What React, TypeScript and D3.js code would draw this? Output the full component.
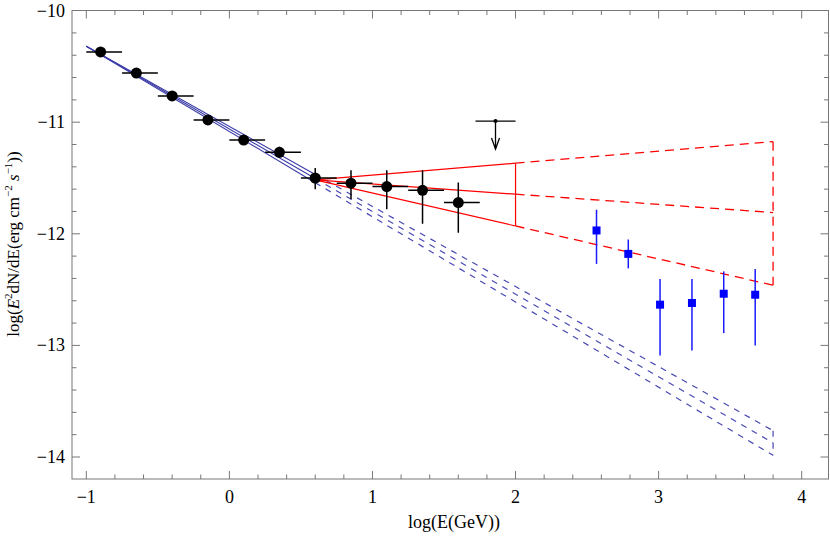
import React from "react";
import * as d3 from "d3";

// Fermi-like points (black circles)
const fermiX = [-0.9, -0.65, -0.4, -0.15, 0.1, 0.35, 0.6, 0.85, 1.1, 1.35, 1.6];
const fermiLo = [-1.0, -0.75, -0.5, -0.25, 0.0, 0.25, 0.5, 0.75, 1.0, 1.25, 1.5];
const fermiHi = [-0.75, -0.5, -0.25, 0.0, 0.25, 0.5, 0.75, 1.0, 1.25, 1.5, 1.75];
const fermiY = [-10.37, -10.56, -10.765, -10.98, -11.16, -11.27, -11.5, -11.546, -11.577, -11.61, -11.72];
const fermiYLo = [-10.39, -10.58, -10.79, -11.01, -11.19, -11.32, -11.6, -11.69, -11.78, -11.91, -11.99];
const fermiYHi = [-10.35, -10.54, -10.74, -10.95, -11.13, -11.22, -11.41, -11.43, -11.43, -11.43, -11.54];

// Upper limit
const ulX = [1.86];
const ulLo = [1.72];
const ulHi = [2.0];
const ulY = [-10.99];
const ulArrowTo = [-11.24];

// HESS-like points (blue squares)
const hessX = [2.566, 2.788, 3.01, 3.233, 3.455, 3.675];
const hessY = [-11.97, -12.18, -12.635, -12.62, -12.537, -12.546];
const hessYHi = [-11.785, -12.05, -12.405, -12.405, -12.337, -12.316];
const hessYLo = [-12.27, -12.31, -13.09, -13.045, -12.89, -13.0];

// Red butterfly: start point, solid end (x=2), dashed end (x=3.8)
const redStart = [0.6, -11.517];
const redSolidEndX = 2.0;
const redDashEndX = 3.8;
const redSlopes = [0.107, -0.0914, -0.295];

// Blue power-law band
const blueStart = [-1.0, -10.32];
const blueSolidEndX = 0.6;
const blueDashEndX = 3.8;
const blueSlopes = [-0.7175, -0.7404, -0.7636];

const xTicks = [-1, 0, 1, 2, 3, 4];
const yTicks = [-10, -11, -12, -13, -14];

const W = 830;
const H = 539;
const L = 72;
const R = 828.5;
const T = 10.5;
const B = 479;

export default function App() {
  const x = d3.scaleLinear().domain([-1, 4]).range([86.3, 801.7]);
  const y = d3.scaleLinear().domain([-10, -14]).range([10.6, 457]);

  const xMinorAll = d3.range(-1.2, 4.4, 0.2).filter((v) => x(v) > L + 1 && x(v) < R - 1);
  const yMinorAll = d3.range(-14.2, -9.9, 0.2).filter((v) => y(v) > T + 1 && y(v) < B - 1);
  const isMajor = (v: number) => Math.abs(v - Math.round(v)) < 1e-6;

  const line = d3.line<[number, number]>().x((d) => x(d[0])).y((d) => y(d[1]));

  const blueColor = "#3c3ca8";
  const blueDashColor = "#4848b4";
  const redColor = "#ff0000";
  const axisColor = "#777";

  const blueSolid = blueSlopes.map((s) => [
    [blueStart[0], blueStart[1]],
    [blueSolidEndX, blueStart[1] + s * (blueSolidEndX - blueStart[0])],
  ] as [number, number][]);
  const blueDash = blueSlopes.map((s) => [
    [blueSolidEndX, blueStart[1] + s * (blueSolidEndX - blueStart[0])],
    [blueDashEndX, blueStart[1] + s * (blueDashEndX - blueStart[0])],
  ] as [number, number][]);
  const blueEnds = blueSlopes.map((s) => blueStart[1] + s * (blueDashEndX - blueStart[0]));

  const redSolid = redSlopes.map((s) => [
    [redStart[0], redStart[1]],
    [redSolidEndX, redStart[1] + s * (redSolidEndX - redStart[0])],
  ] as [number, number][]);
  const redDash = redSlopes.map((s) => [
    [redSolidEndX, redStart[1] + s * (redSolidEndX - redStart[0])],
    [redDashEndX, redStart[1] + s * (redDashEndX - redStart[0])],
  ] as [number, number][]);
  const redMid = redSlopes.map((s) => redStart[1] + s * (redSolidEndX - redStart[0]));
  const redEnd = redSlopes.map((s) => redStart[1] + s * (redDashEndX - redStart[0]));

  const font = "Liberation Serif, DejaVu Serif, serif";
  const ts = { fontFamily: font };

  return (
    <svg
      width={W}
      height={H}
      style={{ position: "absolute", left: 0, top: 0, background: "#fff" }}
    >
      <defs>
        <clipPath id="plotclip">
          <rect x={L} y={T} width={R - L} height={B - T} />
        </clipPath>
      </defs>

      {/* frame */}
      <rect x={L} y={T} width={R - L} height={B - T} fill="none" stroke={axisColor} strokeWidth={1} />

      {/* ticks */}
      {xMinorAll.map((v, i) => {
        const len = isMajor(v) ? 8 : 4.5;
        return (
          <g key={"xt" + i} stroke={axisColor} strokeWidth={1}>
            <line x1={x(v)} x2={x(v)} y1={B} y2={B - len} />
            <line x1={x(v)} x2={x(v)} y1={T} y2={T + len} />
          </g>
        );
      })}
      {yMinorAll.map((v, i) => {
        const len = isMajor(v) ? 8 : 4.5;
        return (
          <g key={"yt" + i} stroke={axisColor} strokeWidth={1}>
            <line x1={L} x2={L + len} y1={y(v)} y2={y(v)} />
            <line x1={R} x2={R - len} y1={y(v)} y2={y(v)} />
          </g>
        );
      })}

      {xTicks.map((v) => (
        <text key={"xl" + v} x={x(v)} y={503} fontSize={18} textAnchor="middle" fill="#000" style={ts}>
          {v < 0 ? "\u2212" + Math.abs(v) : String(v)}
        </text>
      ))}
      {yTicks.map((v) => (
        <text key={"yl" + v} x={65} y={y(v) + 6} fontSize={18} textAnchor="end" fill="#000" style={ts}>
          {"\u2212" + Math.abs(v)}
        </text>
      ))}

      <text x={454} y={528} fontSize={18} textAnchor="middle" fill="#000" style={ts}>
        log(E(GeV))
      </text>
      <text
        transform={`translate(19, 244) rotate(-90)`}
        fontSize={17}
        textAnchor="middle"
        fill="#000"
        style={ts}
      >
        log(<tspan fontStyle="italic">E</tspan>
        <tspan dy={-7} fontSize={11}>2</tspan>
        <tspan dy={7}>dN/dE(erg cm</tspan>
        <tspan dy={-7} fontSize={11}>−2</tspan>
        <tspan dy={7}> </tspan>
        <tspan fontStyle="italic">s</tspan>
        <tspan dy={-7} fontSize={11}>−1</tspan>
        <tspan dy={7}>))</tspan>
      </text>

      <g clipPath="url(#plotclip)">
        {/* blue band */}
        {blueSolid.map((d, i) => (
          <path key={"bs" + i} d={line(d) || ""} stroke={blueColor} strokeWidth={1.1} fill="none" />
        ))}
        {blueDash.map((d, i) => (
          <path key={"bd" + i} d={line(d) || ""} stroke={blueDashColor} strokeWidth={1.2} fill="none" strokeDasharray="6,6" />
        ))}
        <line
          x1={x(blueDashEndX)}
          x2={x(blueDashEndX)}
          y1={y(blueEnds[0])}
          y2={y(blueEnds[2])}
          stroke={blueDashColor}
          strokeWidth={1.2}
          strokeDasharray="6,6"
        />

        {/* red butterfly */}
        {redSolid.map((d, i) => (
          <path key={"rs" + i} d={line(d) || ""} stroke={redColor} strokeWidth={1.2} fill="none" />
        ))}
        <line x1={x(redSolidEndX)} x2={x(redSolidEndX)} y1={y(redMid[0])} y2={y(redMid[2])} stroke={redColor} strokeWidth={1.2} />
        {redDash.map((d, i) => (
          <path key={"rd" + i} d={line(d) || ""} stroke={redColor} strokeWidth={1.3} fill="none" strokeDasharray="9,6" />
        ))}
        <line
          x1={x(redDashEndX)}
          x2={x(redDashEndX)}
          y1={y(redEnd[0])}
          y2={y(redEnd[2])}
          stroke={redColor}
          strokeWidth={1.3}
          strokeDasharray="9,6"
        />

        {/* Fermi points */}
        {fermiX.map((v, i) => (
          <g key={"f" + i} stroke="#000" strokeWidth={1.5}>
            <line x1={x(fermiLo[i])} x2={x(fermiHi[i])} y1={y(fermiY[i])} y2={y(fermiY[i])} />
            <line x1={x(v)} x2={x(v)} y1={y(fermiYLo[i])} y2={y(fermiYHi[i])} />
            <circle cx={x(v)} cy={y(fermiY[i])} r={5.5} fill="#000" stroke="none" />
          </g>
        ))}

        {/* upper limit */}
        {ulX.map((v, i) => (
          <g key={"ul" + i} stroke="#000" strokeWidth={1.3} fill="none">
            <line x1={x(ulLo[i])} x2={x(ulHi[i])} y1={y(ulY[i])} y2={y(ulY[i])} />
            <line x1={x(v)} x2={x(v)} y1={y(ulY[i])} y2={y(ulArrowTo[i])} />
            <polyline
              points={`${x(v) - 4},${y(ulArrowTo[i]) - 11} ${x(v)},${y(ulArrowTo[i])} ${x(v) + 4},${y(ulArrowTo[i]) - 11}`}
            />
            <circle cx={x(v)} cy={y(ulY[i])} r={2} fill="#000" stroke="none" />
          </g>
        ))}

        {/* HESS points */}
        {hessX.map((v, i) => (
          <g key={"h" + i}>
            <line x1={x(v)} x2={x(v)} y1={y(hessYLo[i])} y2={y(hessYHi[i])} stroke="#1a1aff" strokeWidth={1.5} />
            <rect x={x(v) - 4} y={y(hessY[i]) - 4} width={8} height={8} fill="#0000ff" />
          </g>
        ))}
      </g>
    </svg>
  );
}
